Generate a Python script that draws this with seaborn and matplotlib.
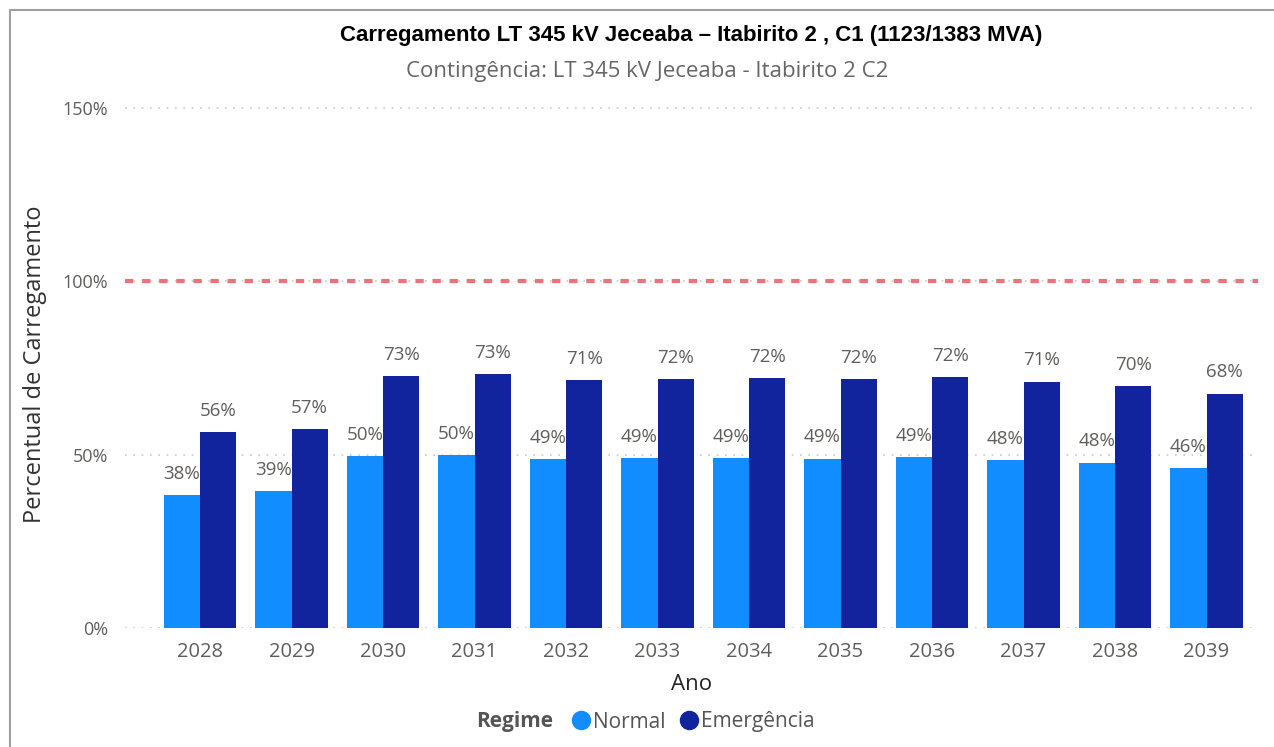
import matplotlib
matplotlib.use("Agg")
import matplotlib.pyplot as plt
import seaborn as sns
import pandas as pd
from matplotlib.lines import Line2D

anos = ["2028", "2029", "2030", "2031", "2032", "2033", "2034", "2035", "2036", "2037", "2038", "2039"]
normal = [38.3, 39.4, 49.6, 49.9, 48.7, 48.9, 49.0, 48.8, 49.3, 48.4, 47.6, 46.1]
emergencia = [56.4, 57.4, 72.6, 73.2, 71.4, 71.8, 72.0, 71.8, 72.4, 71.1, 69.7, 67.6]
regimes = ["Normal", "Emergência"]
yticks = [0, 50, 100, 150]
limite = 100

df = pd.DataFrame({
    "Ano": anos * 2,
    "Valor": normal + emergencia,
    "Regime": [regimes[0]] * len(anos) + [regimes[1]] * len(anos),
})

sns.set_theme(style="white")
plt.rcParams["font.family"] = ["Open Sans", "DejaVu Sans"]

colors = ["#118DFF", "#12239E"]
fig = plt.figure(figsize=(12.74, 7.47), dpi=100)
ax = fig.add_axes([125/1274, 1-628/747, (1258-125)/1274, (628-100)/747])

sns.barplot(data=df, x="Ano", y="Valor", hue="Regime", palette=colors,
            width=0.79, ax=ax, legend=False, saturation=1, edgecolor="none")

ax.set_xlim(-75/91.5, (1258-200)/91.5)
ax.set_ylim(0, 150*528/520)
ax.set_yticks(yticks)
ax.set_yticklabels([f"{v}%" for v in yticks])
for y in yticks:
    ax.axhline(y, color="#C8C8C8", lw=1.2, ls=(0, (1, 4)), zorder=0)
ax.axhline(limite, color="#E8747C", lw=3, ls=(0, (2.0, 2.1)), zorder=3)

for s in ax.spines.values():
    s.set_visible(False)
ax.tick_params(axis="both", length=0, labelcolor="#605E5C")
ax.tick_params(axis="y", pad=12, labelsize=13)
ax.tick_params(axis="x", pad=10, labelsize=14.5)

for cont in ax.containers:
    for bar in cont:
        h = bar.get_height()
        ax.annotate(f"{h:.0f}%", (bar.get_x() + bar.get_width()/2, h),
                    xytext=(0, 9), textcoords="offset points",
                    ha="center", va="bottom", fontsize=13.5, color="#605E5C")

ax.set_xlabel("Ano", fontsize=16, color="#252423", labelpad=9)
ax.set_ylabel("Percentual de Carregamento", fontsize=17, color="#333333")
ax.yaxis.set_label_coords(-(125-47)/1133, 0.5)

fig.text(691/1274, 1-36/747, "Carregamento LT 345 kV Jeceaba – Itabirito 2 , C1 (1123/1383 MVA)",
         ha="center", va="center", fontsize=16, fontweight="bold", color="black",
         family=["Liberation Sans", "DejaVu Sans"])
fig.text(647/1274, 1-72/747, "Contingência: LT 345 kV Jeceaba - Itabirito 2 C2",
         ha="center", va="center", fontsize=16, color="#666666")

# legend
fig.text(553/1274, 1-722/747, "Regime", ha="right", va="center",
         fontsize=15, fontweight="bold", color="#555555")
handles = [Line2D([], [], marker="o", ls="none", markersize=13, color=c) for c in colors]
fig.legend(handles, regimes, loc="center left", bbox_to_anchor=(560/1274, 1-722/747),
           ncol=2, frameon=False, fontsize=15, handletextpad=0.0, columnspacing=0.5,
           labelcolor="#555555", borderaxespad=0, handlelength=1.2)

# frame of the screenshot
fig.add_artist(Line2D([10/1274, 10/1274], [0, 1-10/747], color="#A0A0A0", lw=1.5))
fig.add_artist(Line2D([10/1274, 1], [1-10/747, 1-10/747], color="#A0A0A0", lw=1.5))

fig.savefig("out.png", dpi=100)
